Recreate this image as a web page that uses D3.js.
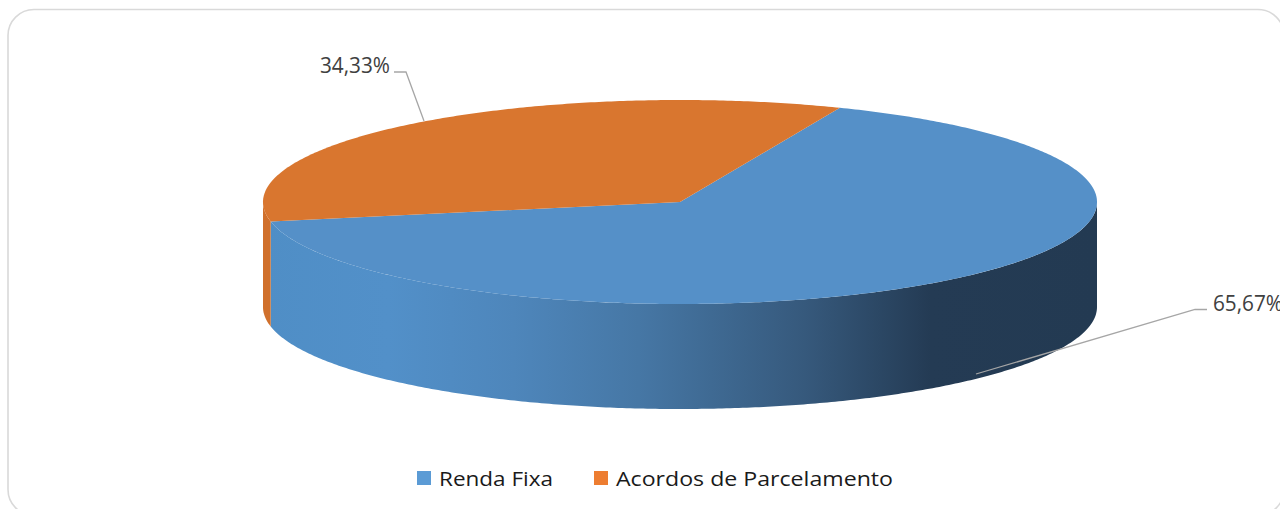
<!DOCTYPE html>
<html lang="pt">
<head>
<meta charset="UTF-8">
<title>Pie 3D</title>
<script src="https://d3js.org/d3.v7.min.js"></script>
<style>
  body { margin: 0; background: #fff; }
  svg { display: block; }
</style>
</head>
<body>
<script>
  // dados
  var categorias = ['Renda Fixa', 'Acordos de Parcelamento'];
  var valores = [65.67, 34.33];
  var rotulos = ['65,67%', '34,33%'];

  var width = 1280, height = 509;
  var cx = 680, cy = 202;   // centro da elipse do topo
  var rx = 417, ry = 102;   // raios da elipse
  var depth = 105;          // altura da lateral
  var corTopo = ['#5590c8', '#d9762f'];
  var corLegenda = ['#5b9bd5', '#ed7d31'];

  var svg = d3.select('body').append('svg').attr('width', width).attr('height', height);

  // moldura arredondada
  svg.append('rect')
     .attr('x', 8).attr('y', 9.5).attr('width', 1276).attr('height', 506)
     .attr('rx', 26).attr('ry', 26)
     .attr('fill', '#fff').attr('stroke', '#d9d9d9').attr('stroke-width', 1.6);

  var defs = svg.append('defs');
  var gradAzul = defs.append('linearGradient').attr('id', 'ladoAzul')
      .attr('gradientUnits', 'userSpaceOnUse')
      .attr('x1', cx - rx).attr('y1', 0).attr('x2', cx + rx).attr('y2', 0);
  [[0, '#4f8ec6'], [0.15, '#5290c9'], [0.3, '#4e86bb'], [0.45, '#4677a5'], [0.65, '#36597c'], [0.8, '#243b54'], [1, '#233a52']]
    .forEach(function (s) { gradAzul.append('stop').attr('offset', s[0]).attr('stop-color', s[1]); });

  var pie = d3.pie().sort(null)
      .startAngle(22.55 * Math.PI / 180)
      .endAngle(22.55 * Math.PI / 180 + 2 * Math.PI);
  var fatias = pie(valores);

  function pt(a, dy) { // ângulo d3 (horário a partir do norte)
    return [cx + rx * Math.sin(a), cy - ry * Math.cos(a) + (dy || 0)];
  }
  function arco(a0, a1, dy) {
    var n = Math.max(2, Math.ceil(Math.abs(a1 - a0) / 0.01));
    return d3.range(n + 1).map(function (i) { return pt(a0 + (a1 - a0) * i / n, dy); });
  }
  var linha = d3.line();

  // lateral visível (de 90° a 270°)
  fatias.forEach(function (f, i) {
    var a0 = Math.max(f.startAngle, Math.PI / 2);
    var a1 = Math.min(f.endAngle, 3 * Math.PI / 2);
    if (a1 <= a0) return;
    var pts = arco(a0, a1, 0).concat(arco(a1, a0, depth));
    svg.append('path')
       .attr('d', linha(pts) + 'Z')
       .attr('fill', i === 0 ? 'url(#ladoAzul)' : '#d0702c');
  });

  // topo
  fatias.forEach(function (f, i) {
    var pts = [[cx, cy]].concat(arco(f.startAngle, f.endAngle, 0));
    svg.append('path')
       .attr('d', linha(pts) + 'Z')
       .attr('fill', corTopo[i]);
  });

  // rótulos com linhas de chamada
  var chamadas = [
    { anc: [976, 374], cot: [1195, 309.5], fim: [1207, 309.5], tx: 1213, ty: 311 },
    { anc: [424, 121], cot: [406, 72], fim: [394, 72], tx: 390, ty: 73, end: true }
  ];
  chamadas.forEach(function (c, i) {
    svg.append('polyline')
       .attr('points', [c.anc, c.cot, c.fim].map(function (p) { return p.join(','); }).join(' '))
       .attr('fill', 'none').attr('stroke', '#a6a6a6').attr('stroke-width', 1.3);
    svg.append('text')
       .attr('x', c.tx).attr('y', c.ty)
       .attr('text-anchor', c.end ? 'end' : 'start')
       .attr('font-family', 'Open Sans, sans-serif').attr('font-size', 21)
       .attr('fill', '#404040')
       .attr('textLength', 70).attr('lengthAdjust', 'spacingAndGlyphs')
       .text(rotulos[i]);
  });

  // legenda
  var legX = [417, 594], legW = [114, 277];
  categorias.forEach(function (c, i) {
    svg.append('rect').attr('x', legX[i]).attr('y', 471).attr('width', 14).attr('height', 14)
       .attr('fill', corLegenda[i]);
    svg.append('text')
       .attr('x', legX[i] + 22).attr('y', 486)
       .attr('font-family', 'Open Sans, sans-serif').attr('font-size', 20)
       .attr('fill', '#1a1a1a')
       .attr('textLength', legW[i]).attr('lengthAdjust', 'spacingAndGlyphs')
       .text(c);
  });
</script>
</body>
</html>
